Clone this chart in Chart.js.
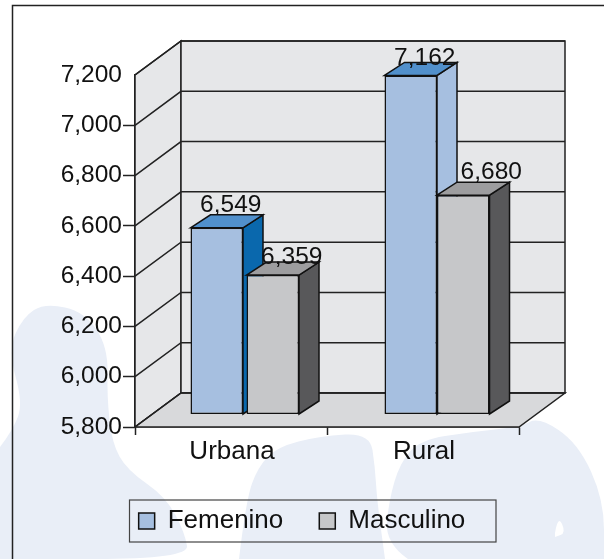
<!DOCTYPE html>
<html lang="en">
<head>
  <meta charset="UTF-8">
  <title>Femenino / Masculino</title>
  <style>
    html, body { margin: 0; padding: 0; background: #fff; }
    canvas { display: block; }
  </style>
  <script src="https://cdn.jsdelivr.net/npm/chart.js"></script>
</head>
<body>
  <canvas id="chart" width="604" height="559"></canvas>

  <script>
    // Data
    const categories = ['Urbana', 'Rural'];
    const femenino = [6549, 7162];
    const masculino = [6359, 6680];
    const tickMin = 5800;
    const tickMax = 7200;
    const tickStep = 200;

    // Colours
    const textColor = '#111111';
    const lineColor = '#222222';
    const wallColor = '#e6e7e9';
    const floorColor = '#d8d9db';
    const waterColor = '#e9eef7';
    const faces = [
      { front: '#a6bfe0', top: '#5190cc', side: ['#0a68ad', '#a6bfe0'] },
      { front: '#c6c7c9', top: '#9d9d9f', side: ['#58585a', '#58585a'] }
    ];

    // 3D look: depth of the room, depth of the bars, where the bars stand
    const roomDepth = { x: 46, y: -34 };
    const barDepth = { x: 20, y: -13 };
    const barShift = { x: 14, y: -13 };
    const barGap = [[-2, 0], [1.5, 0]];  // urbana bars have a small gap, rural ones touch
    // label offset from the bar's front top centre, per series and category
    const labelOffset = [[[14, -23], [14, -17]], [[19, -18], [28, -23]]];

    // Background silhouettes
    const waterShapes = [
      [[0, 447], [13, 430], [23, 403], [8, 350], [23, 317], [45, 303], [85, 312], [108, 347], [107, 397],
       [112, 443], [127, 470], [166, 497], [185, 533], [189, 559], [0, 559]],
      [[239, 559], [246, 500], [258, 467], [277, 447], [320, 436], [370, 433], [375, 467], [377, 500], [385, 559]],
      [[408, 559], [385, 543], [389, 500], [400, 463], [420, 440], [470, 432], [520, 427], [539, 417], [578, 443],
       [604, 500], [604, 559]]
    ];
    const waterHole = [[555, 533], [558, 515], [566, 533], [555, 537]];

    function smoothPath(ctx, pts) {
      ctx.moveTo(pts[0][0], pts[0][1]);
      for (let i = 1; i < pts.length - 1; i++) {
        const mx = (pts[i][0] + pts[i + 1][0]) / 2;
        const my = (pts[i][1] + pts[i + 1][1]) / 2;
        ctx.quadraticCurveTo(pts[i][0], pts[i][1], mx, my);
      }
      ctx.lineTo(pts[pts.length - 1][0], pts[pts.length - 1][1]);
      ctx.closePath();
    }

    function poly(ctx, pts, fill) {
      ctx.beginPath();
      ctx.moveTo(pts[0][0], pts[0][1]);
      for (let i = 1; i < pts.length; i++) ctx.lineTo(pts[i][0], pts[i][1]);
      ctx.closePath();
      ctx.fillStyle = fill;
      ctx.fill();
      ctx.stroke();
    }

    const room3d = {
      id: 'room3d',
      beforeDraw(chart) {
        const ctx = chart.ctx;
        ctx.save();
        ctx.fillStyle = '#fff';
        ctx.fillRect(0, 0, chart.width, chart.height);
        ctx.fillStyle = waterColor;
        waterShapes.forEach(s => { ctx.beginPath(); smoothPath(ctx, s); ctx.fill(); });
        ctx.fillStyle = '#fff';
        ctx.beginPath(); smoothPath(ctx, waterHole); ctx.fill();
        // page frame, runs off the right and bottom edges
        ctx.strokeStyle = lineColor;
        ctx.lineWidth = 1.5;
        ctx.strokeRect(12.5, 5.5, 700, 700);
        ctx.restore();
      },
      beforeDatasetsDraw(chart) {
        const ctx = chart.ctx;
        const { left: l, right: r, top: t, bottom: b } = chart.chartArea;
        const dx = roomDepth.x, dy = roomDepth.y;
        const yScale = chart.scales.y;
        ctx.save();
        ctx.strokeStyle = lineColor;
        ctx.lineWidth = 1.5;
        poly(ctx, [[l, b], [l, t], [l + dx, t + dy], [l + dx, b + dy]], wallColor);
        poly(ctx, [[l + dx, t + dy], [r + dx, t + dy], [r + dx, b + dy], [l + dx, b + dy]], wallColor);
        poly(ctx, [[l, b], [r, b], [r + dx, b + dy], [l + dx, b + dy]], floorColor);
        yScale.ticks.forEach(tick => {
          const y = yScale.getPixelForValue(tick.value);
          ctx.beginPath();
          ctx.moveTo(l, y);
          ctx.lineTo(l + dx, y + dy);
          ctx.lineTo(r + dx, y + dy);
          ctx.stroke();
        });

        // bars: femenino first so masculino covers its side face
        [0, 1].forEach(d => {
          const meta = chart.getDatasetMeta(d);
          meta.data.forEach((bar, i) => {
            ctx.save();
            ctx.translate(barShift.x + barGap[d][i], barShift.y);
            const x0 = bar.x - bar.width / 2, x1 = bar.x + bar.width / 2;
            const ex = barDepth.x, ey = barDepth.y;
            ctx.strokeStyle = '#111';
            ctx.lineWidth = 1.5;
            poly(ctx, [[x1, bar.y], [x1 + ex, bar.y + ey], [x1 + ex, bar.base + ey], [x1, bar.base]], faces[d].side[i]);
            poly(ctx, [[x0, bar.y], [x0 + ex, bar.y + ey], [x1 + ex, bar.y + ey], [x1, bar.y]], faces[d].top);
            bar.draw(ctx);
            ctx.restore();
          });
        });

        // value labels on top of everything
        ctx.font = '24.5px "Liberation Sans"';
        ctx.fillStyle = textColor;
        ctx.textAlign = 'center';
        ctx.textBaseline = 'middle';
        [0, 1].forEach(d => {
          const meta = chart.getDatasetMeta(d);
          meta.data.forEach((bar, i) => {
            const off = labelOffset[d][i];
            const value = chart.data.datasets[d].data[i];
            ctx.fillText(value.toLocaleString('en-US'), bar.x + barShift.x + barGap[d][i] + off[0], bar.y + barShift.y + off[1]);
          });
        });
        ctx.restore();
        return false;
      },
      afterDraw(chart) {
        // box round the legend
        const ctx = chart.ctx;
        ctx.save();
        ctx.strokeStyle = '#444';
        ctx.lineWidth = 1.2;
        ctx.strokeRect(129.5, 500, 366.5, 42);
        ctx.restore();
      }
    };

    new Chart(document.getElementById('chart'), {
      type: 'bar',
      plugins: [room3d],
      data: {
        labels: categories,
        datasets: [
          { label: 'Femenino', data: femenino, base: tickMin, yAxisID: 'barY', backgroundColor: faces[0].front, borderColor: '#111', borderWidth: 1.5, borderSkipped: false },
          { label: 'Masculino', data: masculino, base: tickMin, yAxisID: 'barY', backgroundColor: faces[1].front, borderColor: '#111', borderWidth: 1.5, borderSkipped: false }
        ]
      },
      options: {
        responsive: false,
        animation: false,
        categoryPercentage: 0.547,
        barPercentage: 1,
        layout: { padding: { top: 75, right: 0, bottom: 15, left: 0 } },
        plugins: {
          tooltip: { enabled: false },
          legend: {
            position: 'bottom',
            labels: {
              boxWidth: 16,
              boxHeight: 16,
              padding: 36,
              color: textColor,
              font: { family: '"Liberation Sans"', size: 26 }
            }
          }
        },
        scales: {
          x: {
            afterFit(s) { s.height = 45; },
            border: { color: lineColor, width: 1.5 },
            grid: { drawOnChartArea: false, tickLength: 8, tickWidth: 1.5, color: lineColor },
            ticks: { color: textColor, padding: 1, labelOffset: 1, maxRotation: 0, font: { family: '"Liberation Sans"', size: 26 } }
          },
          y: {
            min: tickMin,
            max: tickMax,
            afterFit(s) { s.width = 135; },
            border: { color: lineColor, width: 1.5 },
            grid: {
              drawOnChartArea: false,
              tickLength: 12,
              tickWidth: 1.5,
              color: c => (c.tick && c.tick.value === tickMax ? 'rgba(0,0,0,0)' : lineColor)
            },
            ticks: {
              stepSize: tickStep,
              padding: 1,
              color: textColor,
              font: { family: '"Liberation Sans"', size: 24.5 },
              callback: v => v.toLocaleString('en-US')
            }
          },
          // bars sit further back in the room, so they read a slightly flatter scale
          barY: {
            position: 'right',
            min: tickMin,
            max: 7216,
            afterFit(s) { s.width = 85; },
            border: { display: false },
            grid: { display: false },
            ticks: { display: false }
          }
        }
      }
    });
  </script>
</body>
</html>
